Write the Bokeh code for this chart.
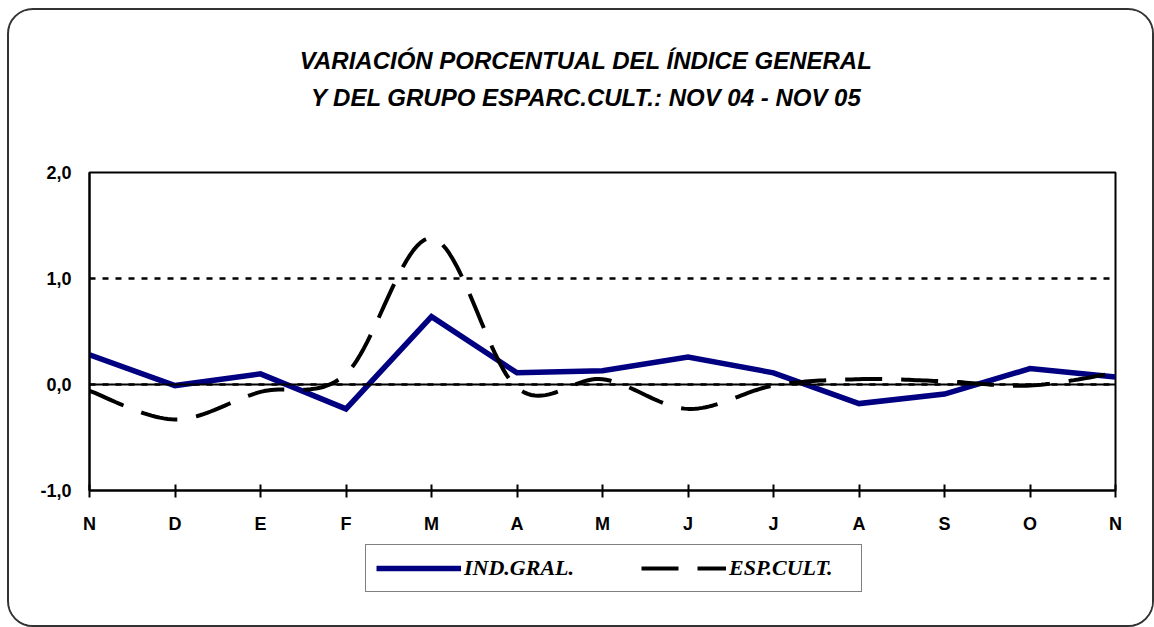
from bokeh.plotting import figure
from bokeh.layouts import column
from bokeh.models import Range1d, FixedTicker, Legend, LegendItem, Span, Label
from bokeh.embed import file_html
from bokeh.resources import INLINE

# ---- data ----
months = ["N", "D", "E", "F", "M", "A", "M", "J", "J", "A", "S", "O", "N"]
ind_gral = [0.28, -0.01, 0.10, -0.23, 0.64, 0.11, 0.13, 0.26, 0.11, -0.18, -0.09, 0.15, 0.07]
esp_cult = [-0.06, -0.33, -0.07, 0.10, 1.38, -0.03, 0.05, -0.23, -0.01, 0.05, 0.03, -0.01, 0.11]
y_ticks = [-1, 0, 1, 2]
y_tick_labels = ["-1,0", "0,0", "1,0", "2,0"]
title_lines = ["VARIACIÓN PORCENTUAL DEL ÍNDICE GENERAL",
               "Y DEL GRUPO ESPARC.CULT.: NOV 04 - NOV 05"]
series_names = ["IND.GRAL.", "ESP.CULT."]

x_idx = list(range(len(months)))

W = 1143
TOP_H, MAIN_H, LEG_H = 130, 400, 85

BLUE = dict(line_color="#000080", line_width=5.5)
DASH = dict(line_color="black", line_width=4, line_dash="37 19")


def smooth(xs, ys, steps=24):
    """Catmull-Rom smoothing (like a spreadsheet's 'smoothed line')."""
    n = len(xs)
    px, py = [], []
    for i in range(n - 1):
        x0, y0 = (xs[i - 1], ys[i - 1]) if i > 0 else (xs[i], ys[i])
        x1, y1 = xs[i], ys[i]
        x2, y2 = xs[i + 1], ys[i + 1]
        x3, y3 = (xs[i + 2], ys[i + 2]) if i + 2 < n else (xs[i + 1], ys[i + 1])
        c1x, c1y = x1 + (x2 - x0) / 6.0, y1 + (y2 - y0) / 6.0
        c2x, c2y = x2 - (x3 - x1) / 6.0, y2 - (y3 - y1) / 6.0
        for k in range(steps + (1 if i == n - 2 else 0)):
            t = k / steps
            a = (1 - t) ** 3
            b = 3 * (1 - t) ** 2 * t
            c = 3 * (1 - t) * t ** 2
            d = t ** 3
            px.append(a * x1 + b * c1x + c * c2x + d * x2)
            py.append(a * y1 + b * c1y + c * c2y + d * y2)
    return px, py


# ---- main chart ----
p = figure(width=W, height=MAIN_H, output_backend="svg", toolbar_location=None,
           x_range=Range1d(0, 12), y_range=Range1d(-1, 2),
           min_border_left=80, min_border_right=37, min_border_top=32, min_border_bottom=50)
p.background_fill_color = "white"
p.border_fill_color = "white"
p.outline_line_color = "black"
p.outline_line_width = 2

p.xgrid.visible = False
p.ygrid.ticker = FixedTicker(ticks=[0, 1, 2])
p.ygrid.grid_line_color = "black"
p.ygrid.grid_line_dash = "6 7"
p.ygrid.grid_line_width = 2.5
p.add_layout(Span(location=0, dimension="width", line_color="black", line_width=2))

p.xaxis.ticker = FixedTicker(ticks=x_idx)
p.xaxis.major_label_overrides = {i: m for i, m in zip(x_idx, months)}
p.xaxis.major_tick_in = 6
p.xaxis.major_tick_out = 7
p.xaxis.major_tick_line_width = 2
p.xaxis.minor_tick_line_color = None
p.xaxis.axis_line_width = 2
p.xaxis.major_label_standoff = 16
p.yaxis.ticker = FixedTicker(ticks=y_ticks)
p.yaxis.major_label_overrides = {tk: lb for tk, lb in zip(y_ticks, y_tick_labels)}
p.yaxis.major_tick_in = 0
p.yaxis.major_tick_out = 0
p.yaxis.minor_tick_line_color = None
p.yaxis.axis_line_width = 2
p.yaxis.major_label_standoff = 18
for ax in (p.xaxis[0], p.yaxis[0]):
    ax.major_label_text_font = "Liberation Sans"
    ax.major_label_text_font_style = "bold"
    ax.major_label_text_font_size = "18px"
    ax.major_label_text_color = "black"
    ax.axis_line_color = "black"
    ax.major_tick_line_color = "black"

p.line(x_idx, ind_gral, line_join="miter", **BLUE)
sx, sy = smooth(x_idx, esp_cult)
p.line(sx, sy, **DASH)


def strip(h, y_range):
    # shares the chart's x scale; column layouts align the inner frames
    f = figure(width=W, height=h, output_backend="svg", toolbar_location=None,
               x_range=p.x_range, y_range=y_range,
               x_axis_type=None, y_axis_type=None,
               min_border_left=80, min_border_right=37, min_border_top=0, min_border_bottom=0)
    f.outline_line_color = None
    f.grid.visible = False
    f.background_fill_color = "white"
    f.border_fill_color = "white"
    return f


# ---- title strip ----
t = strip(TOP_H, Range1d(TOP_H, 0))
for line, yv in zip(title_lines, [50, 87]):
    t.add_layout(Label(x=5.81, y=yv, text=line, text_align="center", text_baseline="middle",
                       text_font="Liberation Sans", text_font_style="bold italic",
                       text_font_size="24px", text_color="black"))

# ---- legend strip (its sample lines lie outside the strip's visible y range) ----
q = strip(LEG_H, Range1d(10, 11))
k1 = q.line(x_idx, ind_gral, **BLUE)
k2 = q.line(sx, sy, **DASH)
legend = Legend(items=[LegendItem(label=series_names[0], renderers=[k1]),
                       LegendItem(label=series_names[1], renderers=[k2])],
                orientation="horizontal", location=(276, 33),
                padding=10, spacing=55, label_standoff=3, margin=0,
                glyph_width=85, glyph_height=20, label_width=122,
                label_text_font="Liberation Serif", label_text_font_style="bold italic",
                label_text_font_size="22px", label_text_color="black",
                border_line_color="black", border_line_width=1.5,
                background_fill_color="white", background_fill_alpha=1.0)
q.add_layout(legend, "center")

layout = column(t, p, q, spacing=0)
layout.styles = {"border": "2px solid #333333", "border-radius": "26px",
                 "margin-left": "7px", "margin-top": "8px", "overflow": "hidden",
                 "background": "white"}

open("out.html", "w").write(file_html(layout, INLINE))
